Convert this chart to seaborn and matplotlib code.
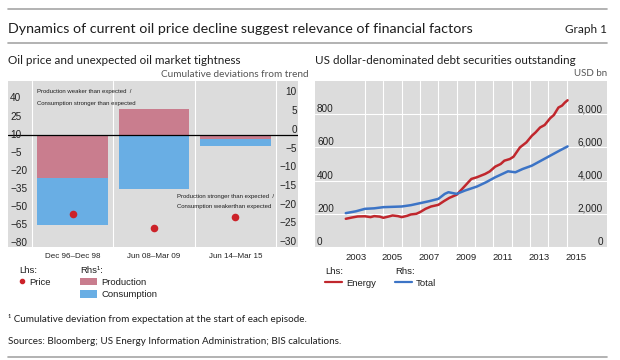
import matplotlib
matplotlib.use("Agg")
import matplotlib.pyplot as plt
from matplotlib.lines import Line2D
from matplotlib.patches import Rectangle
from matplotlib.ticker import FixedLocator, FixedFormatter, NullFormatter
import seaborn as sns

# Oil price episodes (left panel)
episodes = ["Dec 96–Dec 98", "Jun 08–Mar 09", "Jun 14–Mar 15"]
episode_pos = [0, 1, 2]
production = [-11.5, 6.9, -1.0]      # rhs, cumulative deviation
consumption = [-12.5, -14.4, -1.9]   # rhs, stacked on production
price = [-56, -67, -58]              # lhs, per cent

# US dollar debt securities (right panel)
energy_t = [2002.95, 2003.3, 2003.6, 2004.0, 2004.3, 2004.5, 2004.8, 2005.0, 2005.3, 2005.5,
            2005.8, 2006.0, 2006.3, 2006.5, 2006.8, 2007.0, 2007.3, 2007.6, 2008.0, 2008.3,
            2008.6, 2009.0, 2009.3, 2009.8, 2010.1, 2010.55, 2010.8, 2011.1, 2011.4, 2011.6,
            2011.9, 2012.1, 2012.45, 2012.8, 2013.1, 2013.3, 2013.55, 2013.8, 2014.1, 2014.3,
            2014.55, 2014.75, 2014.9, 2015.05]
energy = [170, 178, 184, 185, 180, 186, 183, 176, 184, 190, 186, 180, 188, 196, 200, 210,
          230, 244, 254, 276, 296, 315, 350, 410, 420, 440, 455, 484, 500, 520, 530, 544,
          600, 630, 670, 690, 720, 735, 776, 795, 840, 852, 870, 884]
total_t = [2002.95, 2003.5, 2004.0, 2004.5, 2005.0, 2005.5, 2006.0, 2006.5, 2007.0,
           2007.5, 2008.0, 2008.35, 2008.55, 2009.0, 2009.45, 2010.1, 2010.6, 2011.1,
           2011.8, 2012.2, 2012.6, 2013.1, 2013.6, 2014.1, 2014.6, 2015.05]
total = [2040, 2150, 2300, 2330, 2400, 2420, 2440, 2520, 2640, 2760, 2900, 3200, 3300,
         3200, 3400, 3640, 3900, 4200, 4560, 4500, 4700, 4900, 5200, 5500, 5800, 6060]

lhs_ticks = [40, 25, 10, -5, -20, -35, -50, -65, -80]
rhs_ticks = [10, 5, 0, -5, -10, -15, -20, -25, -30]
debt_ticks = [0, 200, 400, 600, 800]
total_ticks = [0, 2000, 4000, 6000, 8000]
year_ticks = list(range(2004, 2016))
year_labels = list(range(2003, 2016, 2))

BG = "#DCDCDC"
RED = "#C0272D"
BLUE = "#3C74C6"
PROD = "#C97D8E"
CONS = "#69AEE4"
DOT = "#CC2229"
TXT = "#1E1E1E"
TICK = "#222222"

sns.set_style("white")
plt.rcParams["font.family"] = ["Liberation Sans", "DejaVu Sans"]
HEAD = ["Lato", "DejaVu Sans"]

W, H = 620, 360
fig = plt.figure(figsize=(6.2, 3.6), dpi=100)


def box(x0, y0, x1, y1):
    return [x0 / W, 1 - y1 / H, (x1 - x0) / W, (y1 - y0) / H]


def fx(px):
    return px / W


def fy(py):
    return 1 - py / H


def hline(y, x0=8, x1=607):
    fig.add_artist(Line2D([fx(x0), fx(x1)], [fy(y), fy(y)], color="#A5A5A5", lw=1.2))


# header
hline(9)
hline(43)
hline(357)
fig.text(fx(8), fy(33.3), "Dynamics of current oil price decline suggest relevance of financial factors",
         family=HEAD, fontsize=10.3, color=TXT, va="baseline")
fig.text(fx(607), fy(33.3), "Graph 1", family=HEAD, fontsize=8.5, color=TXT, ha="right", va="baseline")
fig.text(fx(8), fy(64), "Oil price and unexpected oil market tightness",
         family=HEAD, fontsize=8.4, color=TXT, va="baseline")
fig.text(fx(315), fy(64), "US dollar-denominated debt securities outstanding",
         family=HEAD, fontsize=8.4, color=TXT, va="baseline")
fig.text(fx(309), fy(77), "Cumulative deviations from trend", family=HEAD, fontsize=7.2,
         color="#555555", ha="right", va="baseline")
fig.text(fx(607), fy(76), "USD bn", family=HEAD, fontsize=7.0, color="#555555",
         ha="right", va="baseline")

# ---- left panel ----
ax1 = fig.add_axes(box(8, 81, 298, 247))
ax1b = ax1.twinx()
ax1.set_facecolor(BG)

cons_bottom = [p if p < 0 else 0 for p in production]
ax1.bar(episode_pos, production, width=0.87, color=PROD, linewidth=0, zorder=2)
ax1.bar(episode_pos, consumption, width=0.87, bottom=cons_bottom, color=CONS, linewidth=0, zorder=2)
ax1.axhline(0, color="black", lw=0.9, zorder=3)

sns.scatterplot(x=episode_pos, y=price, ax=ax1b, color=DOT, s=30, linewidth=0, zorder=4, legend=False)

ax1.set_xlim(-0.795, 2.77)
ax1.set_ylim(-30, 14.4)
ax1b.set_ylim(-83, 54.4)
ax1.yaxis.tick_right()
ax1b.yaxis.tick_left()
ax1.set_yticks(rhs_ticks)
ax1b.set_yticks(lhs_ticks)
ax1.set_xticks([-0.5, 0.5, 1.5, 2.5])
ax1.xaxis.set_major_formatter(NullFormatter())
ax1.xaxis.set_minor_locator(FixedLocator(episode_pos))
ax1.xaxis.set_minor_formatter(FixedFormatter(episodes))
ax1.set_axisbelow(True)
ax1.grid(axis="x", which="major", color="white", lw=0.8)
ax1.grid(axis="y", visible=False)
ax1.tick_params(axis="x", which="major", direction="in", length=3.6, width=0.8, color="#333333")
ax1.tick_params(axis="x", which="minor", length=0, pad=4, labelsize=5.8, labelcolor=TICK)
ax1.tick_params(axis="y", length=0, pad=-0.8, labelsize=7.2, labelcolor=TICK)
ax1b.tick_params(axis="y", length=0, pad=-1.5, labelsize=7.2, labelcolor=TICK)
ax1.set_xlabel("")
ax1b.set_ylabel("")
for lab in ax1.get_yticklabels():
    lab.set_horizontalalignment("right")
    lab.set_verticalalignment("bottom")
for lab in ax1b.get_yticklabels():
    lab.set_horizontalalignment("left")
    lab.set_verticalalignment("center")

fig.text(fx(37), fy(93), "Production weaker than expected  /", fontsize=4.3, color=TXT, va="baseline")
fig.text(fx(37), fy(105), "Consumption stronger than expected", fontsize=4.3, color=TXT, va="baseline")
fig.text(fx(177), fy(197.5), "Production stronger than expected  /", fontsize=4.3, color=TXT, va="baseline")
fig.text(fx(177), fy(208), "Consumption weakerthan expected", fontsize=4.3, color=TXT, va="baseline")

# ---- right panel ----
ax2 = fig.add_axes(box(315, 81, 607, 247))
ax2b = ax2.twinx()
ax2.set_facecolor(BG)

sns.lineplot(x=energy_t, y=energy, ax=ax2, color=RED, linewidth=1.8)
sns.lineplot(x=total_t, y=total, ax=ax2b, color=BLUE, linewidth=1.8)

ax2.set_xlim(2001.27, 2017.2)
ax2.set_ylim(0, 1000)
ax2b.set_ylim(0, 10000)
ax2.set_yticks(debt_ticks)
ax2b.set_yticks(total_ticks)
ax2b.set_yticklabels([f"{v:,}" for v in total_ticks])
ax2.set_xticks(year_ticks)
ax2.xaxis.set_major_formatter(NullFormatter())
ax2.xaxis.set_minor_locator(FixedLocator([y + 0.5 for y in year_labels]))
ax2.xaxis.set_minor_formatter(FixedFormatter([str(y) for y in year_labels]))
ax2.set_axisbelow(True)
ax2.grid(which="major", color="white", lw=0.8)
ax2b.grid(False)
ax2.tick_params(axis="x", which="major", direction="in", length=4.3, width=0.8, color="#333333")
ax2.tick_params(axis="x", which="minor", length=0, pad=4, labelsize=6.8, labelcolor=TICK)
ax2.tick_params(axis="y", length=0, pad=-1.5, labelsize=7.2, labelcolor=TICK)
ax2b.tick_params(axis="y", length=0, pad=-2.9, labelsize=7.2, labelcolor=TICK)
ax2.set_xlabel("")
ax2.set_ylabel("")
ax2b.set_ylabel("")
for lab in ax2.get_yticklabels():
    lab.set_horizontalalignment("left")
    lab.set_verticalalignment("bottom")
for lab in ax2b.get_yticklabels():
    lab.set_horizontalalignment("right")
    lab.set_verticalalignment("bottom")

for ax in (ax1, ax1b, ax2, ax2b):
    for s in ax.spines.values():
        s.set_visible(False)

# ---- legends ----
LEG = 6.8
fig.text(fx(19), fy(273), "Lhs:", fontsize=LEG, color=TXT, va="baseline")
fig.text(fx(80), fy(273), "Rhs¹:", fontsize=LEG, color=TXT, va="baseline")
fig.add_artist(Line2D([fx(22)], [fy(281)], marker="o", ms=3.0, color=DOT, ls="none"))
fig.text(fx(29), fy(285), "Price", fontsize=LEG, color=TXT, va="baseline")
fig.add_artist(Rectangle((fx(80), fy(285)), 16.7 / W, 7.5 / H, transform=fig.transFigure,
                         color=PROD, lw=0))
fig.text(fx(101.7), fy(285.3), "Production", fontsize=LEG, color=TXT, va="baseline")
fig.add_artist(Rectangle((fx(80), fy(297.5)), 16.7 / W, 7.5 / H, transform=fig.transFigure,
                         color=CONS, lw=0))
fig.text(fx(101.7), fy(297.3), "Consumption", fontsize=LEG, color=TXT, va="baseline")

fig.text(fx(325), fy(274.5), "Lhs:", fontsize=LEG, color=TXT, va="baseline")
fig.text(fx(395), fy(274.5), "Rhs:", fontsize=LEG, color=TXT, va="baseline")
fig.add_artist(Line2D([fx(325), fx(341.7)], [fy(282.3)] * 2, color=RED, lw=1.6))
fig.text(fx(346.7), fy(285.5), "Energy", fontsize=LEG, color=TXT, va="baseline")
fig.add_artist(Line2D([fx(395), fx(411.7)], [fy(282.3)] * 2, color=BLUE, lw=1.6))
fig.text(fx(415.5), fy(285.5), "Total", fontsize=LEG, color=TXT, va="baseline")

# ---- footnotes ----
fig.text(fx(8), fy(322.5), "¹ Cumulative deviation from expectation at the start of each episode.",
         family=HEAD, fontsize=7.1, color=TXT, va="baseline")
fig.text(fx(8), fy(344), "Sources: Bloomberg; US Energy Information Administration; BIS calculations.",
         family=HEAD, fontsize=7.1, color=TXT, va="baseline")

fig.savefig("out.png", dpi=100)
